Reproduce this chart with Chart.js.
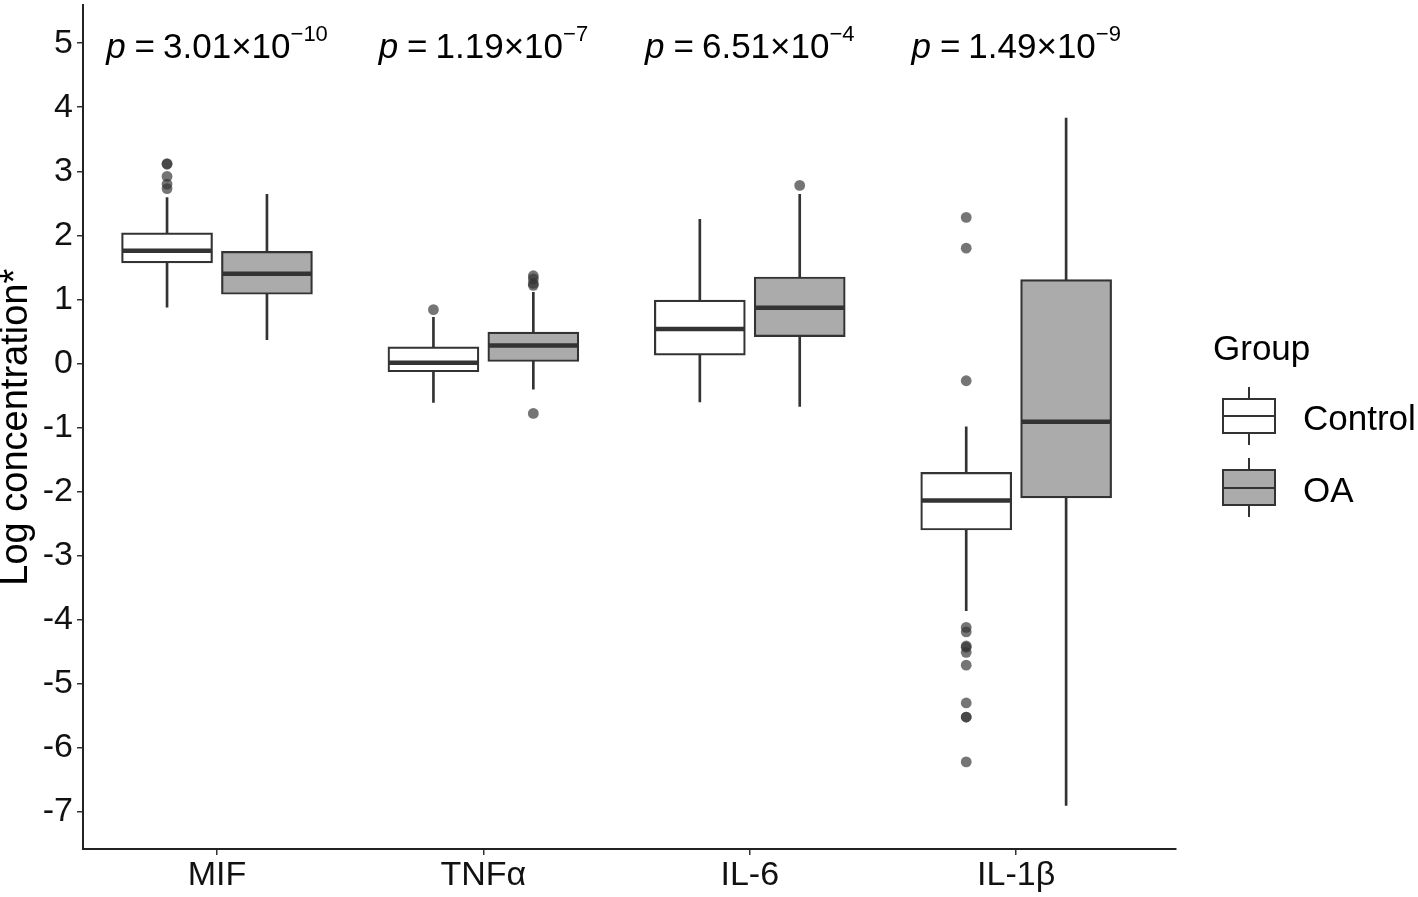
<!DOCTYPE html>
<html>
<head>
<meta charset="utf-8">
<title>Log concentration by group</title>
<script src="https://cdn.jsdelivr.net/npm/chart.js@4.4.0/dist/chart.umd.min.js"></script>
<style>
  body { margin: 0; background: #fff; font-family: "Liberation Sans", Arial, sans-serif; }
  #wrap { position: relative; width: 1418px; height: 897px; }
  .leg { position: absolute; font-size: 35px; line-height: 1; color: #000; white-space: nowrap; }
  .key { position: absolute; left: 1222px; width: 54px; box-sizing: border-box; border: 2px solid #333; }
  .key .mid { position: absolute; left: 0; right: 0; height: 2px; background: #333; }
  .whisk { position: absolute; left: 1248px; width: 2px; background: #333; }
</style>
</head>
<body>
<div id="wrap">
  <canvas id="chart" width="1418" height="897"></canvas>
  <div class="leg" style="left:1213px; top:330px;">Group</div>
  <div id="legendKeys"></div>
</div>

<script>
"use strict";

// categories and groups
const categories = ['MIF', 'TNFα', 'IL-6', 'IL-1β'];
const groups = ['Control', 'OA'];
const groupFill = ['#ffffff', '#ababab'];

// box statistics (log concentration)
const controlLow    = [0.88, -0.61, -0.60, -3.86];
const controlQ1     = [1.57, -0.13,  0.13, -2.60];
const controlMedian = [1.76,  0.01,  0.54, -2.14];
const controlQ3     = [2.04,  0.26,  0.99, -1.70];
const controlHigh   = [2.59,  0.72,  2.25, -0.99];

const oaLow    = [0.37, -0.40, -0.67, -6.90];
const oaQ1     = [1.08,  0.03,  0.42, -2.10];
const oaMedian = [1.40,  0.28,  0.87, -0.91];
const oaQ3     = [1.75,  0.49,  1.35,  1.31];
const oaHigh   = [2.64,  1.11,  2.64,  3.83];

// outliers per category
const controlOutliers = [
  [3.12, 3.11, 2.92, 2.80, 2.73],
  [0.84],
  [],
  [2.28, 1.80, -0.27, -4.12, -4.19, -4.41, -4.43, -4.51, -4.71, -5.30, -5.52, -5.52, -6.22]
];
const oaOutliers = [
  [],
  [1.37, 1.32, 1.25, 1.22, -0.78],
  [2.78],
  []
];

// p values
const pMantissa = ['3.01', '1.19', '6.51', '1.49'];
const pExponent = ['\u221210', '\u22127', '\u22124', '\u22129'];
const pLabelY = 5;

const yTicks = [-7, -6, -5, -4, -3, -2, -1, 0, 1, 2, 3, 4, 5];

const groupOffset = [-0.1875, 0.1875];
const stats = [
  { low: controlLow, q1: controlQ1, med: controlMedian, q3: controlQ3, high: controlHigh, out: controlOutliers },
  { low: oaLow, q1: oaQ1, med: oaMedian, q3: oaQ3, high: oaHigh, out: oaOutliers }
];

const datasets = [];
stats.forEach((s, g) => {
  const xs = categories.map((c, i) => i + 1 + groupOffset[g]);
  datasets.push({
    type: 'bar', label: groups[g] + ' whiskers',
    data: xs.map((x, i) => ({ x: x, y: [s.low[i], s.high[i]] })),
    backgroundColor: '#333', borderWidth: 0, barThickness: 2, grouped: false, order: 3
  });
  datasets.push({
    type: 'bar', label: groups[g],
    data: xs.map((x, i) => ({ x: x, y: [s.q1[i], s.q3[i]] })),
    backgroundColor: groupFill[g], borderColor: '#333', borderWidth: 2.2, borderSkipped: false,
    barThickness: 91, grouped: false, order: 2, medians: s.med
  });
  const pts = [];
  s.out.forEach((arr, i) => arr.forEach(v => pts.push({ x: xs[i], y: v })));
  datasets.push({
    type: 'scatter', label: groups[g] + ' outliers', data: pts,
    backgroundColor: 'rgba(51,51,51,0.68)', borderWidth: 0, pointRadius: 5.4, order: 1
  });
});

const medianLines = {
  id: 'medianLines',
  afterDatasetDraw(chart, args) {
    const ds = chart.data.datasets[args.index];
    if (!ds.medians) return;
    const ctx = chart.ctx;
    const y = chart.scales.y;
    args.meta.data.forEach((bar, i) => {
      const p = bar.getProps(['x', 'width'], true);
      const py = y.getPixelForValue(ds.medians[i]);
      ctx.save();
      ctx.strokeStyle = '#333';
      ctx.lineWidth = 4.5;
      ctx.beginPath();
      ctx.moveTo(p.x - p.width / 2 + 1, py);
      ctx.lineTo(p.x + p.width / 2 - 1, py);
      ctx.stroke();
      ctx.restore();
    });
  }
};

const pLabels = {
  id: 'pLabels',
  afterDraw(chart) {
    const ctx = chart.ctx, x = chart.scales.x, y = chart.scales.y;
    const base = y.getPixelForValue(pLabelY) + 15;
    const fMain = '35px "Liberation Sans", Arial, sans-serif';
    categories.forEach((c, i) => {
      const parts = [
        { t: 'p', f: 'italic ' + fMain, dy: 0, gap: 9 },
        { t: '=', f: fMain, dy: 0, gap: 8 },
        { t: pMantissa[i] + '×10', f: fMain, dy: 0, gap: 0 },
        { t: pExponent[i], f: '22px "Liberation Sans", Arial, sans-serif', dy: -17, gap: 0 }
      ];
      ctx.save();
      let w = 0;
      parts.forEach(p => { ctx.font = p.f; p.w = ctx.measureText(p.t).width; w += p.w + p.gap; });
      let cx = x.getPixelForValue(i + 1) - w / 2;
      ctx.fillStyle = '#000';
      ctx.textAlign = 'left';
      ctx.textBaseline = 'alphabetic';
      parts.forEach(p => { ctx.font = p.f; ctx.fillText(p.t, cx, base + p.dy); cx += p.w + p.gap; });
      ctx.restore();
    });
  }
};

Chart.defaults.font.family = '"Liberation Sans", Arial, sans-serif';
Chart.defaults.color = '#111';

new Chart(document.getElementById('chart'), {
  type: 'bar',
  data: { datasets: datasets },
  options: {
    responsive: false,
    devicePixelRatio: 1,
    animation: false,
    layout: { padding: { left: 0, top: 2, right: 242, bottom: 0 } },
    plugins: { legend: { display: false }, tooltip: { enabled: false } },
    scales: {
      x: {
        type: 'linear', min: 0.497, max: 4.6, offset: false,
        afterBuildTicks: s => { s.ticks = categories.map((c, i) => ({ value: i + 1 })); },
        afterFit: s => { s.height = 48; s.paddingLeft = 0; s.paddingRight = 0; },
        ticks: { callback: v => categories[v - 1], font: { size: 34 }, padding: 0, color: '#111', maxRotation: 0, autoSkip: false },
        grid: { display: true, drawOnChartArea: false, drawTicks: true, tickLength: 6, color: '#333', lineWidth: 1.5, offset: false },
        border: { display: true, color: '#222', width: 2 }
      },
      y: {
        type: 'linear', min: -7.58, max: 5.59,
        afterBuildTicks: s => { s.ticks = yTicks.map(v => ({ value: v })); },
        afterFit: s => { s.width = 83; s.paddingTop = 0; s.paddingBottom = 0; },
        ticks: { callback: v => String(v), font: { size: 34 }, padding: 4, color: '#111' },
        grid: { display: true, drawOnChartArea: false, drawTicks: true, tickLength: 6, color: '#333', lineWidth: 1.5 },
        border: { display: true, color: '#222', width: 2 },
        title: { display: true, text: 'Log concentration*', font: { size: 38, lineHeight: 0.86 }, padding: 0, color: '#000' }
      }
    }
  },
  plugins: [medianLines, pLabels]
});

// legend for the groups
const keyTops = [[387, 398, 434, 445, 416], [458, 469, 506, 517, 488]];
const labelTops = [400, 472];
const keysEl = document.getElementById('legendKeys');
groups.forEach((g, k) => {
  const t = keyTops[k];
  keysEl.insertAdjacentHTML('beforeend',
    `<div class="whisk" style="top:${t[0]}px; height:${t[1] - t[0]}px;"></div>
     <div class="whisk" style="top:${t[2]}px; height:${t[3] - t[2]}px;"></div>
     <div class="key" style="top:${t[1]}px; height:${t[2] - t[1]}px; background:${groupFill[k]};">
       <div class="mid" style="top:${t[4] - t[1] - 3}px;"></div>
     </div>
     <div class="leg" style="left:1303px; top:${labelTops[k]}px;">${g}</div>`);
});
</script>
</body>
</html>
